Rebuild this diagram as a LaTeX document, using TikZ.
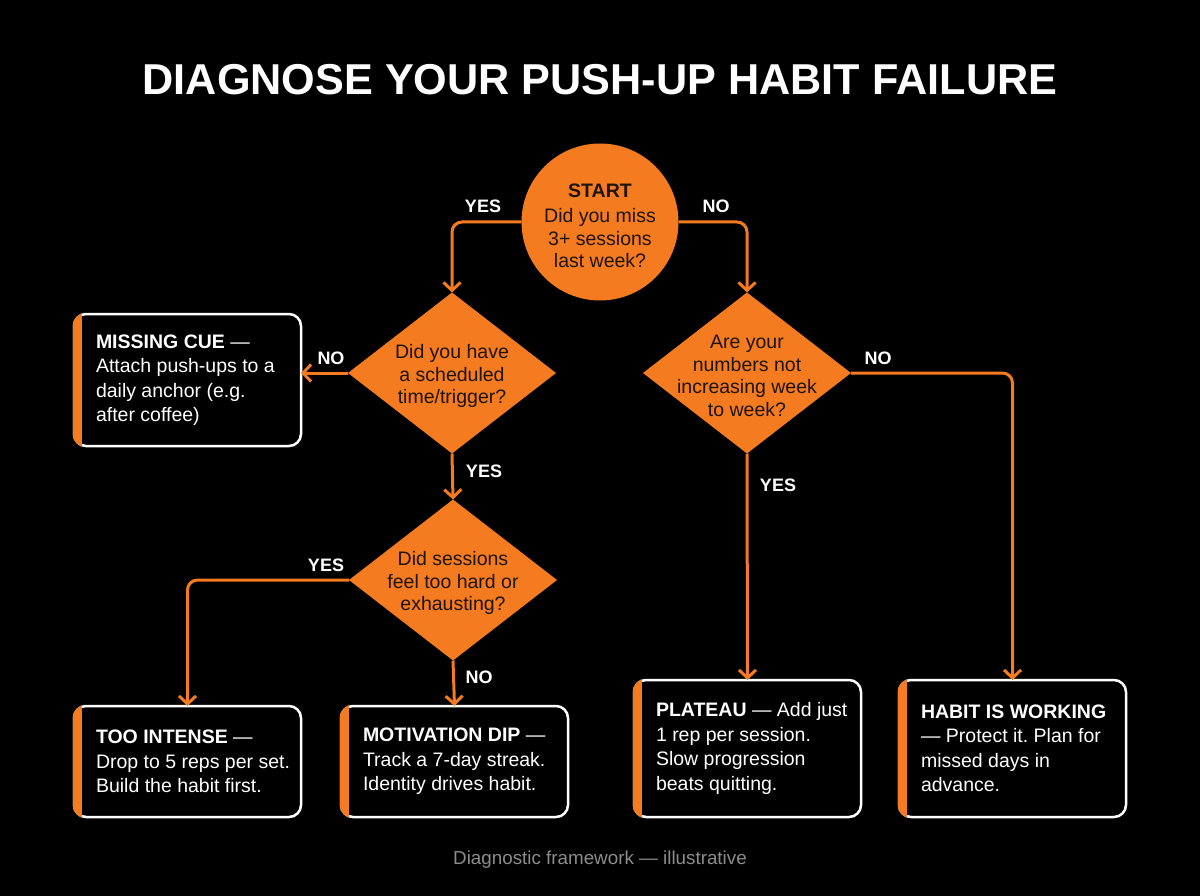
\documentclass[tikz,border=0pt]{standalone}
\usepackage{fontspec}
\setmainfont{Liberation Sans}
\usetikzlibrary{shapes.geometric,arrows.meta}
\frenchspacing
\definecolor{org}{HTML}{F47B20}
\definecolor{dk}{HTML}{1E140C}
\definecolor{gr}{HTML}{8C8C8C}
\newcommand\accentbar[1]{%
  \begin{scope}
    \clip[rounded corners=13.25pt] ([xshift=-1.25pt,yshift=1.25pt]#1.north west) rectangle ([xshift=1.25pt,yshift=-1.25pt]#1.south east);
    \fill[org] ([xshift=-3pt,yshift=3pt]#1.north west) rectangle ([xshift=8pt,yshift=-3pt]#1.south west);
  \end{scope}}
\begin{document}
\begin{tikzpicture}[x=1pt,y=-1pt,
  every node/.style={inner sep=0pt, outer sep=0pt},
  arr/.style={draw=org, line width=3pt, rounded corners=10pt, -{Straight Barb[length=8pt,width=17pt]}},
  lbl/.style={text=white, font=\fontsize{18}{20}\selectfont\bfseries, anchor=base},
  dia/.style={diamond, fill=org, minimum width=208pt, minimum height=161pt},
  qtext/.style={text=dk, align=center, font=\fontsize{19.5}{22.5}\selectfont},
  box/.style={draw=white, line width=2.5pt, rounded corners=12pt, fill=black, minimum width=227pt},
  btext/.style={text=white, align=left, anchor=west, font=\fontsize{19.5}{24.5}\selectfont},
]
\fill[black] (0,0) rectangle (1200,896);
\useasboundingbox (0,0) rectangle (1200,896);

\node[text=white, font=\fontsize{43.2}{50}\selectfont\bfseries, anchor=base] (title) at (600,95) {DIAGNOSE YOUR PUSH-UP HABIT FAILURE};

% start
\node[circle, fill=org, minimum size=157pt] (s) at (600,222) {};
\node[qtext] (st) at (600,226) {\textbf{START}\\[3pt]Did you miss\\3+ sessions\\last week?};

% diamonds
\node[dia] (d1) at (452,373) {};
\node[qtext] (d1t) at (452,376) {Did you have\\a scheduled\\time/trigger?};
\node[dia] (d2) at (747,373) {};
\node[qtext] (d2t) at (747,376) {Are your\\numbers not\\increasing week\\to week?};
\node[dia] (d3) at (453,580) {};
\node[qtext] (d3t) at (453,583) {Did sessions\\feel too hard or\\exhausting?};

% boxes
\node[box, minimum height=132pt] (b1) at (187.5,380) {};
\node[box, minimum height=111pt] (b2) at (187.5,761.5) {};
\node[box, minimum height=111pt] (b3) at (454.5,761.5) {};
\node[box, minimum height=137pt] (b4) at (747.5,748.5) {};
\node[box, minimum height=137pt] (b5) at (1012.5,748.5) {};
\accentbar{b1}\accentbar{b2}\accentbar{b3}\accentbar{b4}\accentbar{b5}

\node[btext] (b1t) at ([xshift=22pt]b1.west) {\textbf{MISSING CUE} —\\Attach push-ups to a\\daily anchor (e.g.\\after coffee)};
\node[btext] (b2t) at ([xshift=22pt]b2.west) {\textbf{TOO INTENSE} —\\Drop to 5 reps per set.\\Build the habit first.};
\node[btext] (b3t) at ([xshift=22pt]b3.west) {\textbf{MOTIVATION DIP} —\\Track a 7-day streak.\\Identity drives habit.};
\node[btext] (b4t) at ([xshift=22pt]b4.west) {\textbf{PLATEAU} — Add just\\1 rep per session.\\Slow progression\\beats quitting.};
\node[btext] (b5t) at ([xshift=22pt]b5.west) {\textbf{HABIT IS WORKING}\\— Protect it. Plan for\\missed days in\\advance.};

% connectors
\draw[arr] (s.west) -| (d1.north);
\draw[arr] (s.east) -| (d2.north);
\draw[arr] (d1.west) -- (d1.west -| b1.east);
\draw[arr] (d1.south) -- (d3.north);
\draw[arr] (d3.west) -| (b2.north);
\draw[arr] (d3.south) -- (b3.north);
\draw[arr] (d2.south) -- (b4.north);
\draw[arr] (d2.east) -| (b5.north);

% labels
\node[lbl] (l1) at (483,213) {YES};
\node[lbl] (l2) at (716,213) {NO};
\node[lbl] (l3) at (331,364) {NO};
\node[lbl] (l4) at (484,477) {YES};
\node[lbl] (l5) at (326,571) {YES};
\node[lbl] (l6) at (479,683) {NO};
\node[lbl] (l7) at (878,364) {NO};
\node[lbl] (l8) at (778,491) {YES};

\node[text=gr, font=\fontsize{18.8}{20}\selectfont, anchor=base] (ft) at (600,864) {Diagnostic framework — illustrative};
\end{tikzpicture}
\end{document}
